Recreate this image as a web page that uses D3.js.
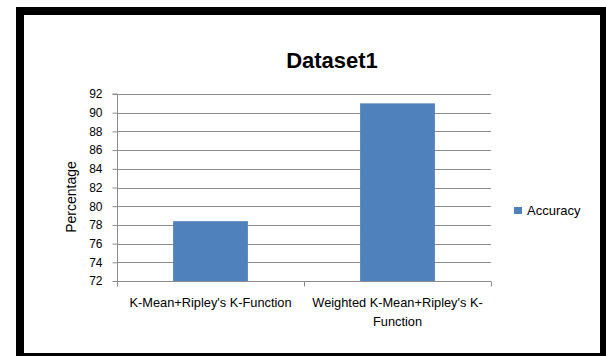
<!DOCTYPE html>
<html>
<head>
<meta charset="utf-8">
<script src="https://cdn.jsdelivr.net/npm/d3@7"></script>
<style>
  html, body { margin: 0; padding: 0; background: #fff; }
  svg { display: block; }
  text { font-family: "Liberation Sans", Arial, sans-serif; }
</style>
</head>
<body>
<script>
// Chart data
const categories = ["K-Mean+Ripley's K-Function", "Weighted K-Mean+Ripley's K-Function"];
const categoryLines = [["K-Mean+Ripley's K-Function"], ["Weighted K-Mean+Ripley's K-", "Function"]];
const accuracy = [78.4, 91];
const yTicks = [72, 74, 76, 78, 80, 82, 84, 86, 88, 90, 92];
const seriesName = "Accuracy";
const chartTitle = "Dataset1";
const yLabel = "Percentage";

const W = 606, H = 356;
const svg = d3.select("body").append("svg").attr("width", W).attr("height", H);

// Black frame around the chart
svg.append("rect").attr("x", 16).attr("y", 7).attr("width", 590).attr("height", 349).attr("fill", "#000");
svg.append("rect").attr("x", 24).attr("y", 15).attr("width", 576).attr("height", 338).attr("fill", "#fff");

const plot = { left: 117, right: 491, top: 94, bottom: 281 };

const x = d3.scaleBand().domain(categories).range([plot.left, plot.right]).paddingInner(0.6).paddingOuter(0.3);
const y = d3.scaleLinear().domain([72, 92]).range([plot.bottom, plot.top]);

// Horizontal gridlines
svg.append("g").selectAll("line").data(yTicks).join("line")
  .attr("x1", plot.left).attr("x2", plot.right)
  .attr("y1", d => Math.round(y(d)) + 0.5).attr("y2", d => Math.round(y(d)) + 0.5)
  .attr("stroke", "#8c8c8c").attr("stroke-width", 1);

// Bars
svg.append("g").selectAll("rect").data(categories).join("rect")
  .attr("x", d => x(d))
  .attr("width", x.bandwidth())
  .attr("y", (d, i) => y(accuracy[i]))
  .attr("height", (d, i) => plot.bottom - y(accuracy[i]))
  .attr("fill", "#4f81bd");

// Y axis
const yAxis = d3.axisLeft(y).tickValues(yTicks).tickSize(5).tickPadding(10).tickFormat(d3.format("d"));
const gy = svg.append("g").attr("transform", `translate(${plot.left + 0.5},0)`).call(yAxis);
gy.select(".domain").attr("stroke", "#8c8c8c").attr("d", `M-5,${plot.top}H0V${plot.bottom + 0.5}`);
gy.selectAll(".tick line").attr("stroke", "#8c8c8c");
gy.selectAll(".tick text").attr("font-size", 12).attr("fill", "#000")
  .style("font-family", "Liberation Sans, Arial, sans-serif");

// X axis baseline with category separators
const gx = svg.append("g").attr("transform", `translate(0,${plot.bottom + 0.5})`);
gx.append("line").attr("x1", plot.left).attr("x2", plot.right).attr("y1", 0).attr("y2", 0).attr("stroke", "#8c8c8c");
const seps = [plot.left, (plot.left + plot.right) / 2, plot.right];
gx.selectAll("line.sep").data(seps).join("line").attr("class", "sep")
  .attr("x1", d => Math.round(d) + 0.5).attr("x2", d => Math.round(d) + 0.5)
  .attr("y1", 0).attr("y2", 5).attr("stroke", "#8c8c8c");

// Category labels
categories.forEach((c, i) => {
  const cx = (seps[i] + seps[i + 1]) / 2;
  const t = svg.append("text").attr("text-anchor", "middle").attr("font-size", 12.8).attr("fill", "#000");
  categoryLines[i].forEach((ln, j) => {
    t.append("tspan").attr("x", cx).attr("y", 307 + j * 19).text(ln);
  });
});

// Title
svg.append("text").attr("x", 332).attr("y", 68).attr("text-anchor", "middle")
  .attr("font-size", 22).attr("font-weight", "bold").attr("fill", "#000").text(chartTitle);

// Y axis title
svg.append("text").attr("transform", "translate(76,197) rotate(-90)").attr("text-anchor", "middle")
  .attr("font-size", 14).attr("fill", "#000").text(yLabel);

// Legend
svg.append("rect").attr("x", 514).attr("y", 207).attr("width", 8).attr("height", 7).attr("fill", "#4f81bd");
svg.append("text").attr("x", 527).attr("y", 215).attr("font-size", 13).attr("fill", "#000").text(seriesName);
</script>
</body>
</html>
